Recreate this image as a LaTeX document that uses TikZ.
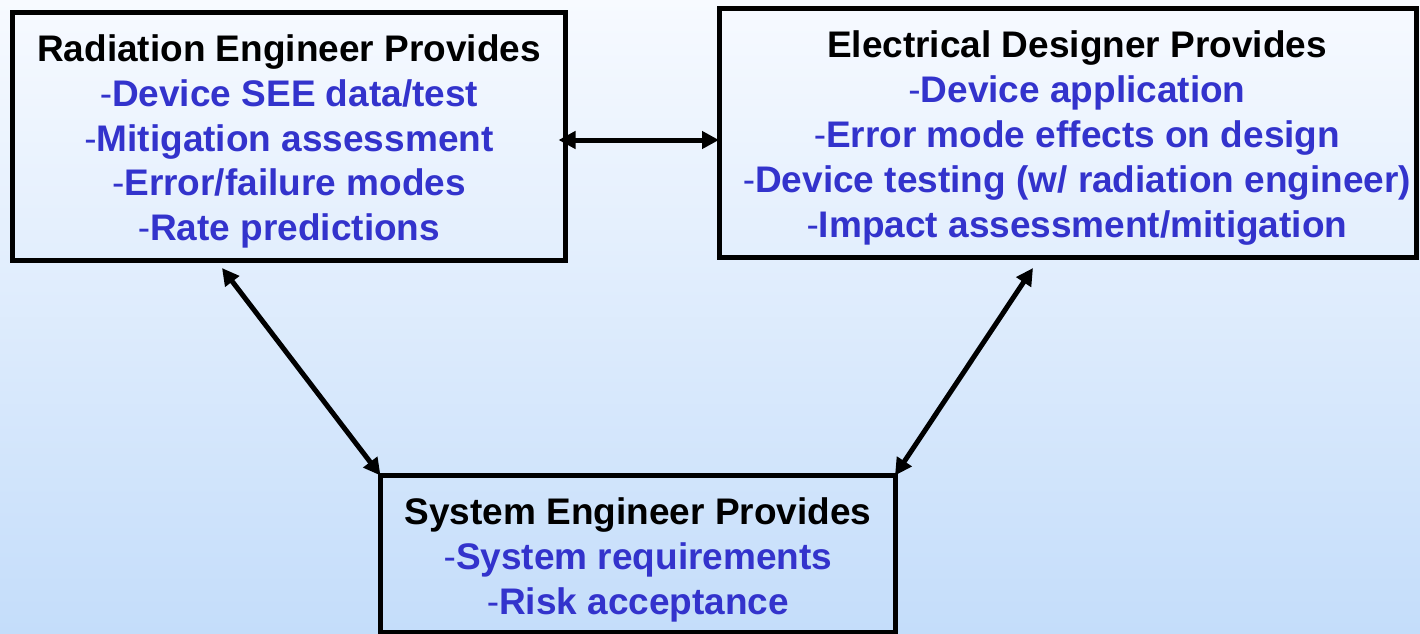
\documentclass[tikz,border=0pt]{standalone}
\usepackage{fontspec}
\setmainfont{Liberation Sans}
\usetikzlibrary{arrows.meta}
\definecolor{bgtop}{RGB}{247,250,255}
\definecolor{bgbot}{RGB}{196,221,250}
\definecolor{itemblue}{RGB}{51,51,204}
\tikzset{
  box/.style={draw=black, line width=2.5pt, rectangle, inner sep=0pt, outer sep=0pt},
  boxtext/.style={align=center, inner sep=0pt,
    font=\fontsize{18.5pt}{22.4pt}\selectfont\bfseries},
  link/.style={line width=2.5pt, {Triangle[length=8.5pt,width=8.5pt]}-{Triangle[length=8.5pt,width=8.5pt]}}
}
\newcommand{\itm}[1]{{\mdseries\color{itemblue}-}{\color{itemblue}#1}}
\begin{document}
\begin{tikzpicture}[x=0.5pt,y=-0.5pt]
  % page and background gradient
  \useasboundingbox (0,0) rectangle (1420,633);
  \shade[top color=bgtop, bottom color=bgbot] (0,0) rectangle (1420,633);

  % the three role boxes
  \node[box, minimum width=276.5pt, minimum height=124pt] (r) at (289,136.5) {};
  \node[box, minimum width=348.5pt, minimum height=124.25pt] (e) at (1067.5,132.75) {};
  \node[box, minimum width=257.25pt, minimum height=78.25pt] (s) at (637.75,553.75) {};

  % box contents
  \node[boxtext] (rt) at (289,141.5) {Radiation Engineer Provides\\
    \itm{Device SEE data/test}\\
    \itm{Mitigation assessment}\\
    \itm{Error/failure modes}\\
    \itm{Rate predictions}};
  \node[boxtext] (et) at (1077,138) {Electrical Designer Provides\\
    \itm{Device application}\\
    \itm{Error mode effects on design}\\
    \itm{Device testing (w/ radiation engineer)}\\
    \itm{Impact assessment/mitigation}};
  \node[boxtext] (st) at (638,560) {System Engineer Provides\\
    \itm{System requirements}\\
    \itm{Risk acceptance}};

  % connectors
  \coordinate (h) at (640,140);
  \coordinate (ra) at (222,268);
  \coordinate (ea) at (1033,268);
  \draw[link, shorten <=-3.5pt] (r.east |- h) -- (e.west |- h);
  \draw[link] (ra) -- (s.north west);
  \draw[link] (ea) -- (s.north east);
\end{tikzpicture}
\end{document}
